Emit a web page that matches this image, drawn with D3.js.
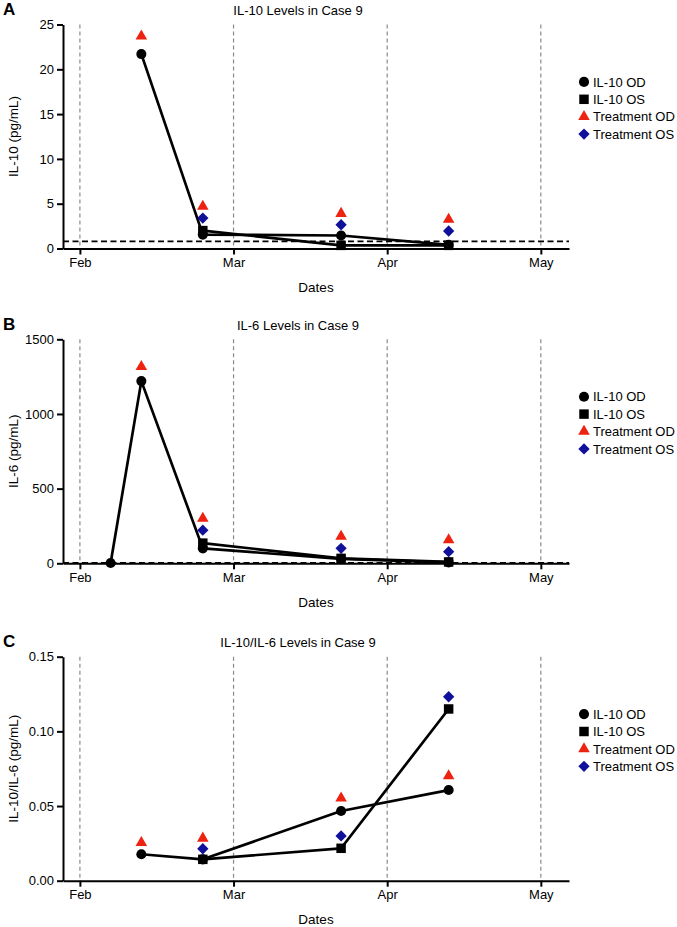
<!DOCTYPE html>
<html>
<head>
<meta charset="utf-8">
<script src="https://cdn.jsdelivr.net/npm/d3@7"></script>
<style>
  body { margin: 0; background: #fff; }
  svg { display: block; font-family: "Liberation Sans", Arial, Helvetica, sans-serif; }
</style>
</head>
<body>
<svg id="fig" width="677" height="927"></svg>
<script>
// x positions are days after Feb 1 (axis ticks every 30 days)
var monthTicks = [0, 30, 60, 90];
var monthLabels = ['Feb', 'Mar', 'Apr', 'May'];
var legendNames = ['IL-10 OD', 'IL-10 OS', 'Treatment OD', 'Treatment OS'];

// panel A: IL-10
var il10Days = [12, 24, 51, 72];
var il10OD = [21.7, 1.55, 1.45, 0.4];
var il10OS = [null, 2.0, 0.35, 0.35];
var il10TreatOD = [23.7, 4.7, 3.9, 3.25];
var il10TreatOS = [null, 3.4, 2.65, 1.95];
var il10Ticks = [0, 5, 10, 15, 20, 25];

// panel B: IL-6
var il6Days = [6, 12, 24, 51, 72];
var il6OD = [2, 1220, 100, 30, 6];
var il6OS = [null, null, 135, 33, 9];
var il6TreatOD = [null, 1317, 300, 180, 156];
var il6TreatOS = [null, null, 222, 100, 78];
var il6Ticks = [0, 500, 1000, 1500];

// panel C: IL-10/IL-6
var ratioDays = [12, 24, 51, 72];
var ratioOD = [0.0177, 0.0143, 0.0467, 0.0607];
var ratioOS = [null, 0.0143, 0.0217, 0.115];
var ratioTreatOD = [0.0254, 0.0284, 0.0552, 0.0701];
var ratioTreatOS = [null, 0.0214, 0.030, 0.1232];
var ratioTicks = [0, 0.05, 0.10, 0.15];

var RED = '#ee2211', BLUE = '#10109a';
var svg = d3.select('#fig');
var x = d3.scaleLinear().domain([-3.3, 95.5]).range([63, 569]);

var sym = {
	circle: d3.symbol().type(d3.symbolCircle).size(80),
	square: d3.symbol().type(d3.symbolSquare).size(90),
	triangle: d3.symbol().type(d3.symbolTriangle).size(58),
	diamond: d3.symbol().type(d3.symbolSquare).size(64),
};

function drawPanel(p) {
	var top = p.top, bottom = p.top + 224;
	var y = d3.scaleLinear().domain([0, p.ticks[p.ticks.length - 1]]).range([bottom, top]);
	var g = svg.append('g');

	g.append('text')
		.attr('x', 3).attr('y', top - 9.5)
		.attr('font-size', 17).attr('font-weight', 'bold')
		.text(p.letter);
	g.append('text')
		.attr('x', 298).attr('y', top - 9.5)
		.attr('text-anchor', 'middle').attr('font-size', 13)
		.text(p.title);

	// month guide lines
	g.selectAll('line.grid')
		.data(monthTicks)
		.enter().append('line')
			.attr('x1', function(d) { return x(d); })
			.attr('x2', function(d) { return x(d); })
			.attr('y1', top).attr('y2', bottom)
			.attr('stroke', '#8a8a8a').attr('stroke-width', 1.2)
			.attr('stroke-dasharray', '4,3');

	var xAxis = d3.axisBottom(x)
		.tickValues(monthTicks)
		.tickFormat(function(d, i) { return monthLabels[i]; })
		.tickSize(6).tickSizeOuter(0).tickPadding(3);
	var yAxis = d3.axisLeft(y)
		.tickValues(p.ticks)
		.tickFormat(p.fmt)
		.tickSize(6).tickSizeOuter(0).tickPadding(3);

	var gx = g.append('g').attr('transform', 'translate(0,' + bottom + ')').call(xAxis);
	var gy = g.append('g').attr('transform', 'translate(63,0)').call(yAxis);
	[gx, gy].forEach(function(a) {
		a.select('.domain').attr('stroke', '#000').attr('stroke-width', 2);
		a.selectAll('.tick line').attr('stroke', '#000').attr('stroke-width', 2);
		a.selectAll('.tick text').attr('font-size', 13).attr('fill', '#000')
			.attr('font-family', '"Liberation Sans", Arial, sans-serif');
	});

	g.append('text')
		.attr('x', 316).attr('y', bottom + 43.5)
		.attr('text-anchor', 'middle').attr('font-size', 13.5)
		.text('Dates');
	g.append('text')
		.attr('transform', 'translate(18,' + (top + 112) + ') rotate(-90)')
		.attr('text-anchor', 'middle').attr('font-size', 13.5)
		.text(p.ylabel);

	if (p.limit != null) {
		g.append('line')
			.attr('x1', 63).attr('x2', 569)
			.attr('y1', y(p.limit)).attr('y2', y(p.limit))
			.attr('stroke', '#000').attr('stroke-width', 1.6)
			.attr('stroke-dasharray', '6,3.5');
	}

	function pts(vals) {
		return p.days.map(function(d, i) { return {d: d, v: vals[i]}; })
			.filter(function(o) { return o.v != null; });
	}
	var line = d3.line()
		.x(function(o) { return x(o.d); })
		.y(function(o) { return y(o.v); });

	[p.od, p.os].forEach(function(vals) {
		g.append('path')
			.datum(pts(vals))
			.attr('d', line)
			.attr('fill', 'none').attr('stroke', '#000')
			.attr('stroke-width', 2.7).attr('stroke-linejoin', 'round');
	});

	var series = [
		{vals: p.od, shape: 'circle', color: '#000'},
		{vals: p.os, shape: 'square', color: '#000'},
		{vals: p.tod, shape: 'triangle', color: RED},
		{vals: p.tos, shape: 'diamond', color: BLUE},
	];
	series.forEach(function(s) {
		g.selectAll(null)
			.data(pts(s.vals))
			.enter().append('path')
				.attr('d', sym[s.shape])
				.attr('fill', s.color)
				.attr('transform', function(o) {
					return 'translate(' + x(o.d) + ',' + y(o.v) + ')' + (s.shape === 'diamond' ? ' rotate(45)' : '');
				});
	});

	// legend
	var lg = g.append('g').attr('transform', 'translate(584,' + (top + 57.4) + ')');
	series.forEach(function(s, i) {
		var row = lg.append('g').attr('transform', 'translate(0,' + (i * 17.4) + ')');
		row.append('path')
			.attr('d', sym[s.shape])
			.attr('fill', s.color)
			.attr('transform', s.shape === 'diamond' ? 'rotate(45)' : null);
		row.append('text')
			.attr('x', 9).attr('y', 4.7)
			.attr('font-size', 13)
			.text(legendNames[i]);
	});
}

drawPanel({
	letter: 'A', title: 'IL-10 Levels in Case 9', ylabel: 'IL-10 (pg/mL)', top: 24.5,
	days: il10Days, od: il10OD, os: il10OS, tod: il10TreatOD, tos: il10TreatOS,
	ticks: il10Ticks, fmt: d3.format('d'), limit: 0.8,
});
drawPanel({
	letter: 'B', title: 'IL-6 Levels in Case 9', ylabel: 'IL-6 (pg/mL)', top: 339.3,
	days: il6Days, od: il6OD, os: il6OS, tod: il6TreatOD, tos: il6TreatOS,
	ticks: il6Ticks, fmt: d3.format('d'), limit: 4,
});
drawPanel({
	letter: 'C', title: 'IL-10/IL-6 Levels in Case 9', ylabel: 'IL-10/IL-6 (pg/mL)', top: 656.7,
	days: ratioDays, od: ratioOD, os: ratioOS, tod: ratioTreatOD, tos: ratioTreatOS,
	ticks: ratioTicks, fmt: d3.format('.2f'), limit: null,
});
</script>
</body>
</html>
